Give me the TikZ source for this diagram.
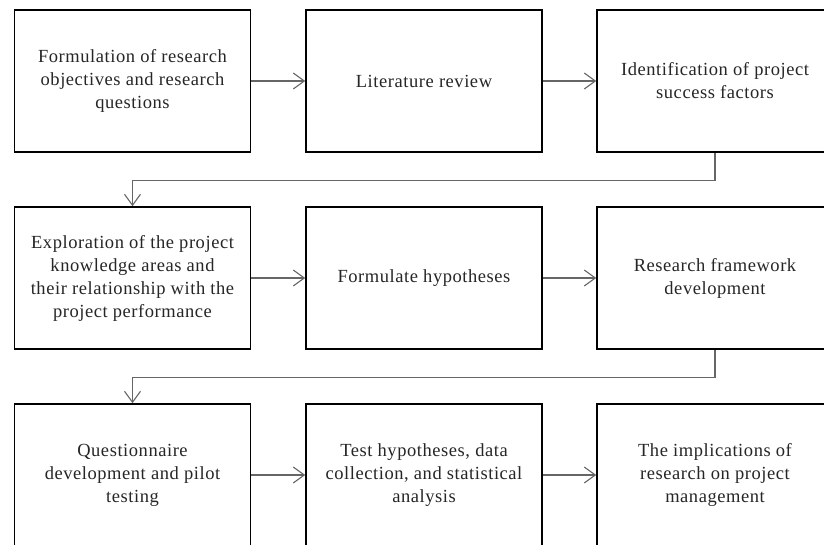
\documentclass[tikz,border=0pt]{standalone}
\usepackage{fontspec}
\setmainfont{Liberation Serif}[LetterSpace=3]
\usetikzlibrary{arrows.meta,calc}
\tikzset{
  x=1pt,y=-1pt,
  stepbox/.style={draw=black,line width=1.6pt,minimum width=236pt,minimum height=142pt,
    inner sep=0pt,align=center,font=\fontsize{18.5}{23}\selectfont,text=black!85},
  arr/.style={draw=black!60,line width=1.1pt,-{Straight Barb[length=11pt,width=16pt,line width=1.1pt]}}
}
\begin{document}
\begin{tikzpicture}
\clip (0,0) rectangle (824,545);
\fill[white] (0,0) rectangle (824,545);
\node[stepbox] (n1) at (132.5,81) {Formulation of research\\objectives and research\\questions};
\node[stepbox] (n2) at (424,81) {Literature review};
\node[stepbox] (n3) at (715,81) {Identification of project\\success factors};
\node[stepbox] (n4) at (132.5,278) {Exploration of the project\\knowledge areas and\\their relationship with the\\project performance};
\node[stepbox] (n5) at (424,278) {Formulate hypotheses};
\node[stepbox] (n6) at (715,278) {Research framework\\development};
\node[stepbox] (n7) at (132.5,475) {Questionnaire\\development and pilot\\testing};
\node[stepbox] (n8) at (424,475) {Test hypotheses, data\\collection, and statistical\\analysis};
\node[stepbox] (n9) at (715,475) {The implications of\\research on project\\management};
\draw[arr] (n1) -- (n2);
\draw[arr] (n2) -- (n3);
\draw[arr] (n4) -- (n5);
\draw[arr] (n5) -- (n6);
\draw[arr] (n7) -- (n8);
\draw[arr] (n8) -- (n9);
\draw[arr] (n3.south) -- ++(0,28) -| (n4.north);
\draw[arr] (n6.south) -- ++(0,28) -| (n7.north);
\end{tikzpicture}
\end{document}
